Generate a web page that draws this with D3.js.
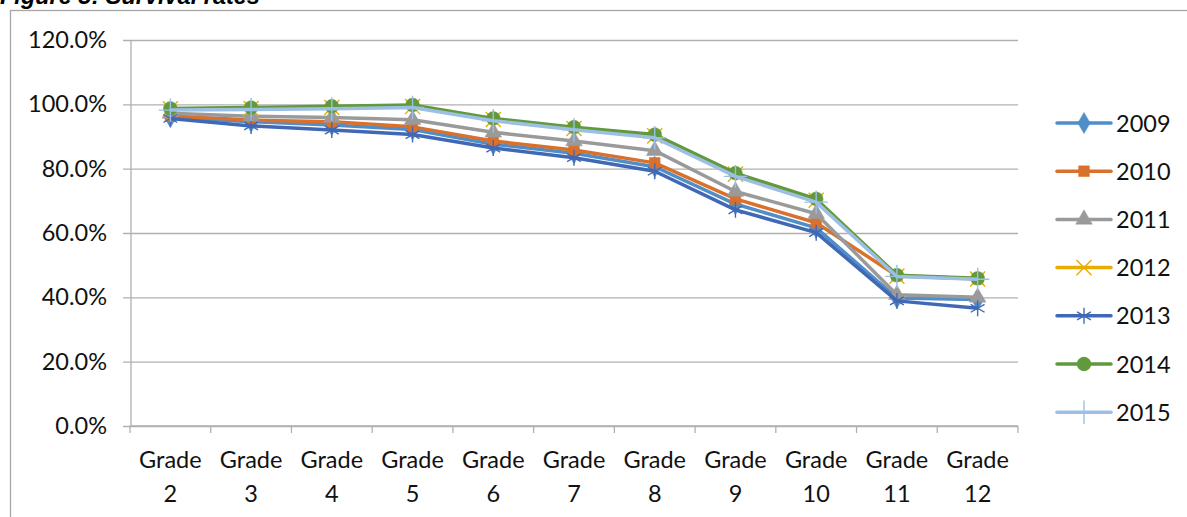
<!DOCTYPE html>
<html>
<head>
<meta charset="utf-8">
<script src="https://cdn.jsdelivr.net/npm/d3@7.9.0/dist/d3.min.js"></script>
<style>
  body { margin: 0; background: #fff; }
  svg { display: block; }
</style>
</head>
<body>
<div id="viz"></div>
<script>
// categories on the x axis
const grades = ["Grade 2", "Grade 3", "Grade 4", "Grade 5", "Grade 6", "Grade 7",
                "Grade 8", "Grade 9", "Grade 10", "Grade 11", "Grade 12"];

// survival rate per year (percent)
const s2009 = [96.0, 94.6, 93.6, 92.2, 87.6, 84.8, 80.6, 69.0, 61.6, 39.8, 39.3];
const s2010 = [96.4, 95.1, 94.6, 93.0, 88.6, 85.8, 81.8, 70.6, 63.2, 46.7, 45.8];
const s2011 = [97.2, 96.3, 95.9, 95.2, 91.3, 88.6, 85.6, 72.9, 66.0, 40.8, 40.0];
const s2012 = [98.6, 98.7, 99.0, 99.3, 95.3, 92.5, 90.2, 78.3, 70.2, 46.6, 45.7];
const s2013 = [95.6, 93.3, 92.0, 90.6, 86.4, 83.4, 79.2, 67.2, 60.1, 38.9, 36.6];
const s2014 = [98.7, 99.0, 99.4, 99.8, 95.6, 92.9, 90.6, 78.6, 70.6, 46.9, 45.9];
const s2015 = [98.2, 98.4, 98.6, 99.0, 94.9, 92.1, 89.6, 77.6, 69.6, 46.5, 45.6];

const years = ["2009", "2010", "2011", "2012", "2013", "2014", "2015"];
const yTicks = [0, 20, 40, 60, 80, 100, 120];

const series = [
  { name: "2009", values: s2009, color: "#4f8ec9", symbol: d3.symbolDiamond, size: 130, filled: true },
  { name: "2010", values: s2010, color: "#d9702b", symbol: d3.symbolSquare, size: 115, filled: true },
  { name: "2011", values: s2011, color: "#9a9a9a", symbol: d3.symbolTriangle, size: 120, filled: true },
  { name: "2012", values: s2012, color: "#e8ad00", symbol: d3.symbolTimes, size: 150, filled: false },
  { name: "2013", values: s2013, color: "#4068b5", symbol: d3.symbolAsterisk, size: 180, filled: false },
  { name: "2014", values: s2014, color: "#61993d", symbol: d3.symbolCircle, size: 150, filled: true },
  { name: "2015", values: s2015, color: "#9dbfe4", symbol: d3.symbolPlus, size: 180, filled: false }
];

const width = 1187;
const height = 517;
const plot = { left: 130, right: 1018, top: 40, bottom: 426 };
const font = "Lato, 'Open Sans', sans-serif";
const fontSize = 23.5;

const svg = d3.select("#viz")
  .append("svg")
  .attr("width", width)
  .attr("height", height);

// chart title, cut off at the top of the picture as in the source
svg.append("text")
  .attr("x", 0)
  .attr("y", 4)
  .attr("font-family", "'Liberation Sans', Arial, sans-serif")
  .attr("font-size", 23.5)
  .attr("font-weight", "bold")
  .attr("font-style", "italic")
  .attr("fill", "#000")
  .text("Figure 5: Survival rates");

// chart border
svg.append("rect")
  .attr("x", 10.5)
  .attr("y", 10.5)
  .attr("width", 1300)
  .attr("height", 600)
  .attr("fill", "none")
  .attr("stroke", "#a6a6a6")
  .attr("stroke-width", 1.3);

const x = d3.scaleBand()
  .domain(grades)
  .range([plot.left, plot.right]);

const y = d3.scaleLinear()
  .domain([0, 120])
  .range([plot.bottom, plot.top]);

// y axis with gridlines
const yAxis = svg.append("g")
  .attr("transform", `translate(${plot.left},0)`)
  .call(d3.axisLeft(y).tickValues(yTicks).tickSize(-(plot.right - plot.left)).tickPadding(23)
    .tickFormat(d => d.toFixed(1) + "%"));
yAxis.select(".domain").remove();
yAxis.selectAll(".tick line")
  .attr("x1", -7)
  .attr("stroke", "#b0b0b0")
  .attr("stroke-width", 1.3);
yAxis.selectAll(".tick text")
  .attr("font-family", font)
  .attr("font-size", fontSize)
  .attr("fill", "#111");

svg.append("line")
  .attr("x1", plot.left + 1).attr("x2", plot.left + 1)
  .attr("y1", plot.top).attr("y2", plot.bottom)
  .attr("stroke", "#b0b0b0")
  .attr("stroke-width", 1.3);

// x axis: ticks between categories
const xAxis = svg.append("g")
  .attr("transform", `translate(0,${plot.bottom})`);
xAxis.append("line")
  .attr("x1", plot.left).attr("x2", plot.right)
  .attr("stroke", "#b0b0b0")
  .attr("stroke-width", 1.3);
const boundaries = grades.map(g => x(g)).concat([x(grades[grades.length - 1]) + x.bandwidth()]);
xAxis.selectAll(".xtick")
  .data(boundaries)
  .join("line")
  .attr("class", "xtick")
  .attr("x1", d => d).attr("x2", d => d)
  .attr("y1", 0).attr("y2", 7)
  .attr("stroke", "#b0b0b0")
  .attr("stroke-width", 1.3);

const xLabels = xAxis.selectAll(".xlabel")
  .data(grades)
  .join("text")
  .attr("class", "xlabel")
  .attr("text-anchor", "middle")
  .attr("font-family", font)
  .attr("font-size", fontSize)
  .attr("fill", "#111");
xLabels.each(function(d) {
  const parts = d.split(" ");
  const t = d3.select(this);
  const cx = x(d) + x.bandwidth() / 2;
  t.append("tspan").attr("x", cx).attr("y", 42).text(parts[0]);
  t.append("tspan").attr("x", cx).attr("y", 76).text(parts[1]);
});

// lines and markers, drawn series by series
const line = d3.line()
  .x((d, i) => x(grades[i]) + x.bandwidth() / 2)
  .y(d => y(d));

series.forEach(s => {
  const g = svg.append("g");
  g.append("path")
    .datum(s.values)
    .attr("d", line)
    .attr("fill", "none")
    .attr("stroke", s.color)
    .attr("stroke-width", 3.5)
    .attr("stroke-linejoin", "round");

  g.selectAll("path.marker")
    .data(s.values)
    .join("path")
    .attr("class", "marker")
    .attr("transform", (d, i) => `translate(${x(grades[i]) + x.bandwidth() / 2},${y(d)})`)
    .attr("d", d3.symbol().type(s.symbol).size(s.size))
    .attr("fill", s.filled ? s.color : "none")
    .attr("stroke", s.color)
    .attr("stroke-width", s.filled ? 0.5 : 1.4);
});

// legend
const legend = svg.append("g");
const legendRows = legend.selectAll("g")
  .data(series)
  .join("g")
  .attr("transform", (d, i) => `translate(0,${123 + i * 48.2})`);
legendRows.append("line")
  .attr("x1", 1057).attr("x2", 1111)
  .attr("stroke", d => d.color)
  .attr("stroke-width", 3.5)
  .attr("stroke-linecap", "round");
legendRows.append("path")
  .attr("transform", "translate(1084,0)")
  .attr("d", d => d3.symbol().type(d.symbol).size(d.size)())
  .attr("fill", d => d.filled ? d.color : "none")
  .attr("stroke", d => d.color)
  .attr("stroke-width", d => d.filled ? 0.5 : 1.4);
legendRows.append("text")
  .attr("x", 1116)
  .attr("y", 8.5)
  .attr("font-family", font)
  .attr("font-size", fontSize)
  .attr("fill", "#111")
  .text((d, i) => years[i]);
</script>
</body>
</html>
